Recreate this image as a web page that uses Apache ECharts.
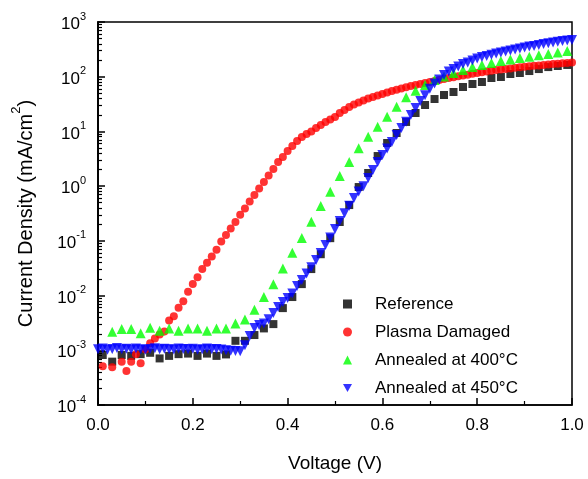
<!DOCTYPE html>
<html>
<head>
<meta charset="utf-8">
<script src="https://cdn.jsdelivr.net/npm/echarts@6/dist/echarts.min.js"></script>
<style>html,body{margin:0;padding:0;background:#fff}#c{width:588px;height:479px}</style>
</head>
<body>
<div id="c"></div>
<script>
// ---- data ----
const seriesNames = ['Reference', 'Plasma Damaged', 'Annealed at 400\u00B0C', 'Annealed at 450\u00B0C'];
const xTicks = [0, 0.2, 0.4, 0.6, 0.8, 1.0];
const yTicks = [1e-4, 1e-3, 1e-2, 1e-1, 1e0, 1e1, 1e2, 1e3];

const refV = [0.01,0.03,0.05,0.07,0.09,0.11,0.13,0.15,0.17,0.19,0.21,0.23,0.25,0.27,0.29,0.31,0.33,0.35,0.37,0.39,
  0.41,0.43,0.45,0.47,0.49,0.51,0.53,0.55,0.57,0.59,0.61,0.63,0.65,0.67,0.69,0.71,0.73,0.75,0.77,0.79,
  0.81,0.83,0.85,0.87,0.89,0.91,0.93,0.95,0.97,0.99];
const refJ = [8.2e-4,6.2e-4,8.2e-4,7.9e-4,8.5e-4,9.0e-4,7.1e-4,7.9e-4,8.5e-4,8.7e-4,7.9e-4,8.7e-4,7.9e-4,8.4e-4,1.49e-3,1.49e-3,1.90e-3,2.51e-3,3.01e-3,5.9e-3,
  9.4e-3,1.62e-2,3.05e-2,5.7e-2,0.112,0.221,0.451,0.963,1.74,3.55,6.14,9.35,14.9,21.7,30.4,39.1,46.3,52.5,64.8,73.6,
  80,94.7,98.8,112,117,127,138,150,157,164];

const plasmaV = [0.01,0.03,0.05,0.06,0.07,0.08,0.09,0.10,0.11,0.12,0.13,0.14,0.15,0.16,0.17,0.18,0.19,0.20,
  0.21,0.22,0.23,0.24,0.25,0.26,0.27,0.28,0.29,0.30,0.31,0.32,0.33,0.34,0.35,0.36,0.37,0.38,0.39,0.40,
  0.41,0.42,0.43,0.44,0.45,0.46,0.47,0.48,0.49,0.50,0.51,0.52,0.53,0.54,0.55,0.56,0.57,0.58,0.59,0.60,
  0.61,0.62,0.63,0.64,0.65,0.66,0.67,0.68,0.69,0.70,0.71,0.72,0.73,0.74,0.75,0.76,0.77,0.78,0.79,0.80,
  0.81,0.82,0.83,0.84,0.85,0.86,0.87,0.88,0.89,0.90,0.91,0.92,0.93,0.94,0.95,0.96,0.97,0.98,0.99,1.00];
const plasmaJ = [5.1e-4,4.9e-4,6.2e-4,4.2e-4,6.2e-4,8.5e-4,5.8e-4,1.05e-3,1.35e-3,1.64e-3,1.94e-3,2.2e-3,3.5e-3,4.2e-3,6.0e-3,7.9e-3,1.18e-2,1.62e-2,
  2.17e-2,3.05e-2,4.0e-2,5.2e-2,6.9e-2,9.7e-2,0.128,0.168,0.22,0.30,0.39,0.523,0.688,0.904,1.19,1.56,2.05,2.76,3.40,4.38,
  5.41,6.68,7.90,8.96,9.96,11.5,13.1,14.9,16.5,18.3,21.7,24.6,27.9,31.0,33.8,36.7,39.9,42.5,45.3,48.3,
  51.4,54.8,57.8,60.8,64.0,67.6,70.5,73.6,76.7,80.0,83.4,87.0,90.8,94.7,97.9,102,105,109,113,117,
  121,124,128,132,136,139,142,146,149,152,155,158,161,164,167,170,173,176,179,182];

const a400V = [0.03,0.05,0.07,0.09,0.11,0.13,0.15,0.17,0.19,0.21,0.23,0.25,0.27,0.29,0.31,0.33,0.35,0.37,0.39,
  0.41,0.43,0.45,0.47,0.49,0.51,0.53,0.55,0.57,0.59,0.61,0.63,0.65,0.67,0.69,0.71,0.73,0.75,0.77,0.79,
  0.81,0.83,0.85,0.87,0.89,0.91,0.93,0.95,0.97,0.99];
const a400J = [2.18e-3,2.46e-3,2.46e-3,2.04e-3,2.57e-3,2.27e-3,2.49e-3,2.27e-3,2.49e-3,2.49e-3,2.27e-3,2.49e-3,2.49e-3,3.10e-3,3.64e-3,5.5e-3,9.4e-3,1.61e-2,3.14e-2,
  6.05e-2,0.113,0.223,0.433,0.790,1.53,2.76,4.91,8.0,12.2,18.6,28.3,42.0,55.5,70.5,87,101,117,132,150,
  164,178,194,206,220,232,246,260,277,295];

const a450V = [0.00,0.01,0.02,0.03,0.04,0.05,0.06,0.07,0.08,0.09,0.10,0.11,0.12,0.13,0.14,0.15,0.16,0.17,0.18,0.19,0.20,
  0.21,0.22,0.23,0.24,0.25,0.26,0.27,0.28,0.29,0.30,0.31,0.32,0.33,0.34,0.35,0.36,0.37,0.38,0.39,0.40,
  0.41,0.42,0.43,0.44,0.45,0.46,0.47,0.48,0.49,0.50,0.51,0.52,0.53,0.54,0.55,0.56,0.57,0.58,0.59,0.60,
  0.61,0.62,0.63,0.64,0.65,0.66,0.67,0.68,0.69,0.70,0.71,0.72,0.73,0.74,0.75,0.76,0.77,0.78,0.79,0.80,
  0.81,0.82,0.83,0.84,0.85,0.86,0.87,0.88,0.89,0.90,0.91,0.92,0.93,0.94,0.95,0.96,0.97,0.98,0.99,1.00];
const a450J = [1.05e-3,1.08e-3,1.02e-3,1.06e-3,1.10e-3,1.04e-3,1.07e-3,1.03e-3,1.08e-3,1.05e-3,1.02e-3,1.06e-3,1.09e-3,1.04e-3,1.07e-3,1.05e-3,1.03e-3,1.08e-3,1.06e-3,1.04e-3,1.07e-3,
  1.02e-3,1.05e-3,1.08e-3,1.04e-3,1.06e-3,1.03e-3,1.00e-3,0.98e-3,0.97e-3,0.96e-3,1.24e-3,1.82e-3,2.55e-3,2.9e-3,3.1e-3,3.7e-3,4.8e-3,6.2e-3,7.6e-3,9.0e-3,
  1.09e-2,1.49e-2,1.92e-2,2.52e-2,3.3e-2,4.45e-2,6.0e-2,8.4e-2,0.115,0.164,0.23,0.32,0.44,0.61,0.80,1.0,1.41,1.97,2.76,3.7,
  4.9,6.4,8.6,11.5,15.1,19.9,26.7,36,46,60,75,89,107,124,138,154,171,182,198,215,
  229,240,251,265,277,289,302,315,328,342,356,364,380,397,408,422,434,448,459,470];

// minor tick positions (decade exponents of 2..9 x 10^n), placed on a linear exponent axis
const yMinorExp = [];
[-4,-3,-2,-1,0,1,2].forEach(n => { for (let k = 2; k <= 9; k++) yMinorExp.push(n + Math.log10(k)); });

function pairs(xs, ys) { return xs.map((x, i) => [x, ys[i]]); }

const FONT = 'Liberation Sans, Arial, sans-serif';
const chart = echarts.init(document.getElementById('c'), null, { renderer: 'canvas' });
const supMap = { b: { fontSize: 17, fontFamily: FONT, color: '#000', lineHeight: 22, verticalAlign: 'bottom' },
                 s: { fontSize: 11, fontFamily: FONT, color: '#000', lineHeight: 22, verticalAlign: 'top' } };

chart.setOption({
  animation: false,
  backgroundColor: '#fff',
  grid: { left: 98, right: 16, top: 22, bottom: 74, show: true, borderColor: '#000', borderWidth: 1.5, backgroundColor: 'transparent' },
  xAxis: [{
    type: 'value', min: 0, max: 1, interval: 0.2,
    name: 'Voltage (V)', nameLocation: 'middle', nameGap: 49,
    nameTextStyle: { fontSize: 19, fontFamily: FONT, color: '#000' },
    axisLine: { onZero: false, lineStyle: { color: '#000', width: 1.5 } },
    axisTick: { inside: true, length: 7, lineStyle: { color: '#000', width: 1.5 } },
    minorTick: { show: true, splitNumber: 2, length: 4, lineStyle: { color: '#000', width: 1.2 } },
    splitLine: { show: false },
    axisLabel: { margin: 12, fontSize: 17, fontFamily: FONT, color: '#000', formatter: v => v.toFixed(1) }
  }],
  yAxis: [{
    type: 'log', logBase: 10, min: 1e-4, max: 1e3,
    name: '{a|Current Density (mA/cm}{s|2}{a|)}', nameLocation: 'middle', nameGap: 62,
    nameTextStyle: { rich: { a: { fontSize: 20, fontFamily: FONT, color: '#000', lineHeight: 26, verticalAlign: 'bottom' },
                             s: { fontSize: 13, fontFamily: FONT, color: '#000', lineHeight: 26, verticalAlign: 'top' } } },
    axisLine: { show: true, onZero: false, lineStyle: { color: '#000', width: 1.5 } },
    axisTick: { inside: true, length: 7, customValues: yTicks, lineStyle: { color: '#000', width: 1.5 } },
    splitLine: { show: false },
    axisLabel: { margin: 12, customValues: yTicks, formatter: v => '{b|10}{s|' + Math.round(Math.log10(v)) + '}', rich: supMap }
  }, {
    type: 'value', min: -4, max: 3, position: 'left', show: true,
    axisLine: { show: true, onZero: false, lineStyle: { color: '#000', width: 1.5 } },
    axisTick: { show: true, inside: true, length: 4, customValues: yMinorExp, lineStyle: { color: '#000', width: 1.2 } },
    axisLabel: { show: false },
    splitLine: { show: false }
  }],
  legend: {
    orient: 'vertical', left: 338, top: 290, itemWidth: 9, itemHeight: 9, itemGap: 10,
    textStyle: { fontSize: 17, fontFamily: FONT, color: '#000', lineHeight: 18, padding: [0, 0, 0, 18] },
    data: [
      { name: seriesNames[0] },
      { name: seriesNames[1] },
      { name: seriesNames[2] },
      { name: seriesNames[3], icon: 'path://M0,0L10,0L5,8.66Z' }
    ]
  },
  series: [
    { name: seriesNames[0], type: 'scatter', symbol: 'rect', symbolSize: 8, itemStyle: { color: '#000000' }, data: pairs(refV, refJ) },
    { name: seriesNames[1], type: 'scatter', symbol: 'circle', symbolSize: 8, itemStyle: { color: '#ff0000' }, data: pairs(plasmaV, plasmaJ) },
    { name: seriesNames[2], type: 'scatter', symbol: 'triangle', symbolSize: 10, itemStyle: { color: '#00ff00' }, data: pairs(a400V, a400J) },
    { name: seriesNames[3], type: 'scatter', symbol: 'triangle', symbolRotate: 180, symbolSize: 10, itemStyle: { color: '#0000ff' }, data: pairs(a450V, a450J) }
  ]
});
</script>
</body>
</html>
